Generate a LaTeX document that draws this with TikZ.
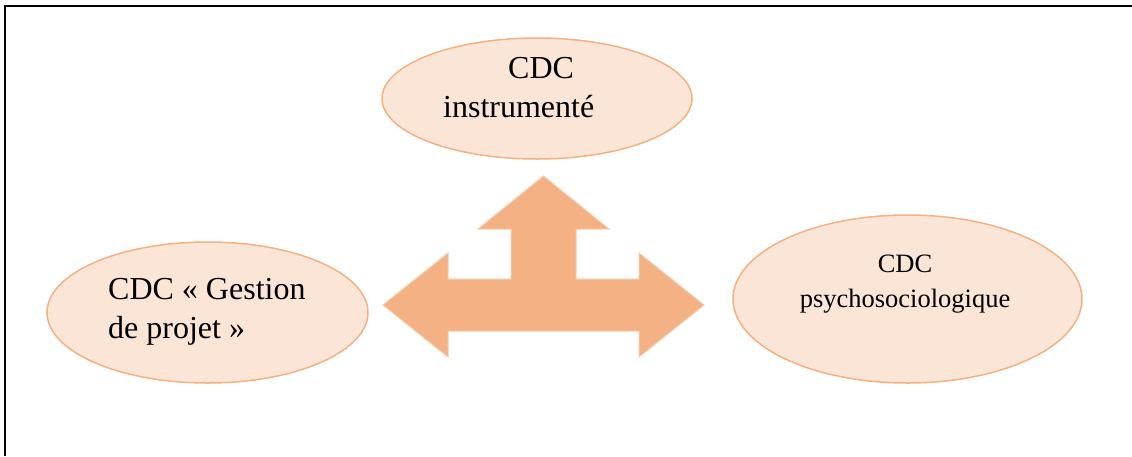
\documentclass[tikz,border=0pt]{standalone}
\usepackage{fontspec}
\setmainfont{Liberation Serif}
\usetikzlibrary{shapes.geometric}
\definecolor{bubblefill}{HTML}{FBE5D6}
\definecolor{bubbleline}{HTML}{F4B183}
\definecolor{arrowfill}{HTML}{F4B183}
\definecolor{arrowedge}{HTML}{F8CBAD}
\tikzset{
  bubble/.style={ellipse, draw=bubbleline, fill=bubblefill, line width=1.5pt, inner sep=0pt},
  bigtxt/.style={inner sep=0pt, font=\fontsize{32}{39}\selectfont},
  smalltxt/.style={inner sep=0pt, font=\fontsize{26.5}{35}\selectfont},
  frameline/.style={line width=2pt, black},
}
\begin{document}
\begin{tikzpicture}[x=1pt, y=-1pt]
  \useasboundingbox (0,0) rectangle (1132,456);
  % open frame: top and left rules only
  \coordinate (fr-r) at (1132,6);
  \coordinate (fr-c) at (5,6);
  \coordinate (fr-b) at (5,456);
  \draw[frameline] (fr-r) -- (fr-c) -- (fr-b);

  % the three bubbles
  \node[bubble, minimum width=310pt, minimum height=121pt] (instr) at (537,98.5) {};
  \node[bubble, minimum width=321pt, minimum height=141pt] (gestion) at (207.5,312.5) {};
  \node[bubble, minimum width=349pt, minimum height=168pt] (psycho) at (907.5,299) {};

  \node[bigtxt, anchor=base west] (instr-a) at (508,78) {CDC};
  \node[bigtxt, anchor=base west] (instr-b) at (443,117) {instrumenté};
  \node[bigtxt, anchor=base west] (gestion-a) at (108,299) {CDC « Gestion};
  \node[bigtxt, anchor=base west] (gestion-b) at (108,338) {de projet »};
  \node[smalltxt, anchor=base] (psycho-a) at (905,272) {CDC};
  \node[smalltxt, anchor=base] (psycho-b) at (905,307) {psychosociologique};

  % three-way block arrow
  \fill[arrowfill, draw=arrowedge, line width=1pt, line join=miter]
    (543.5,176) -- (609,229) -- (576,229) -- (576,279) -- (639,279) -- (639,253)
    -- (704,305) -- (639,357) -- (639,331) -- (448,331) -- (448,357) -- (383,305)
    -- (448,253) -- (448,279) -- (511,279) -- (511,229) -- (478,229) -- cycle;
\end{tikzpicture}
\end{document}
